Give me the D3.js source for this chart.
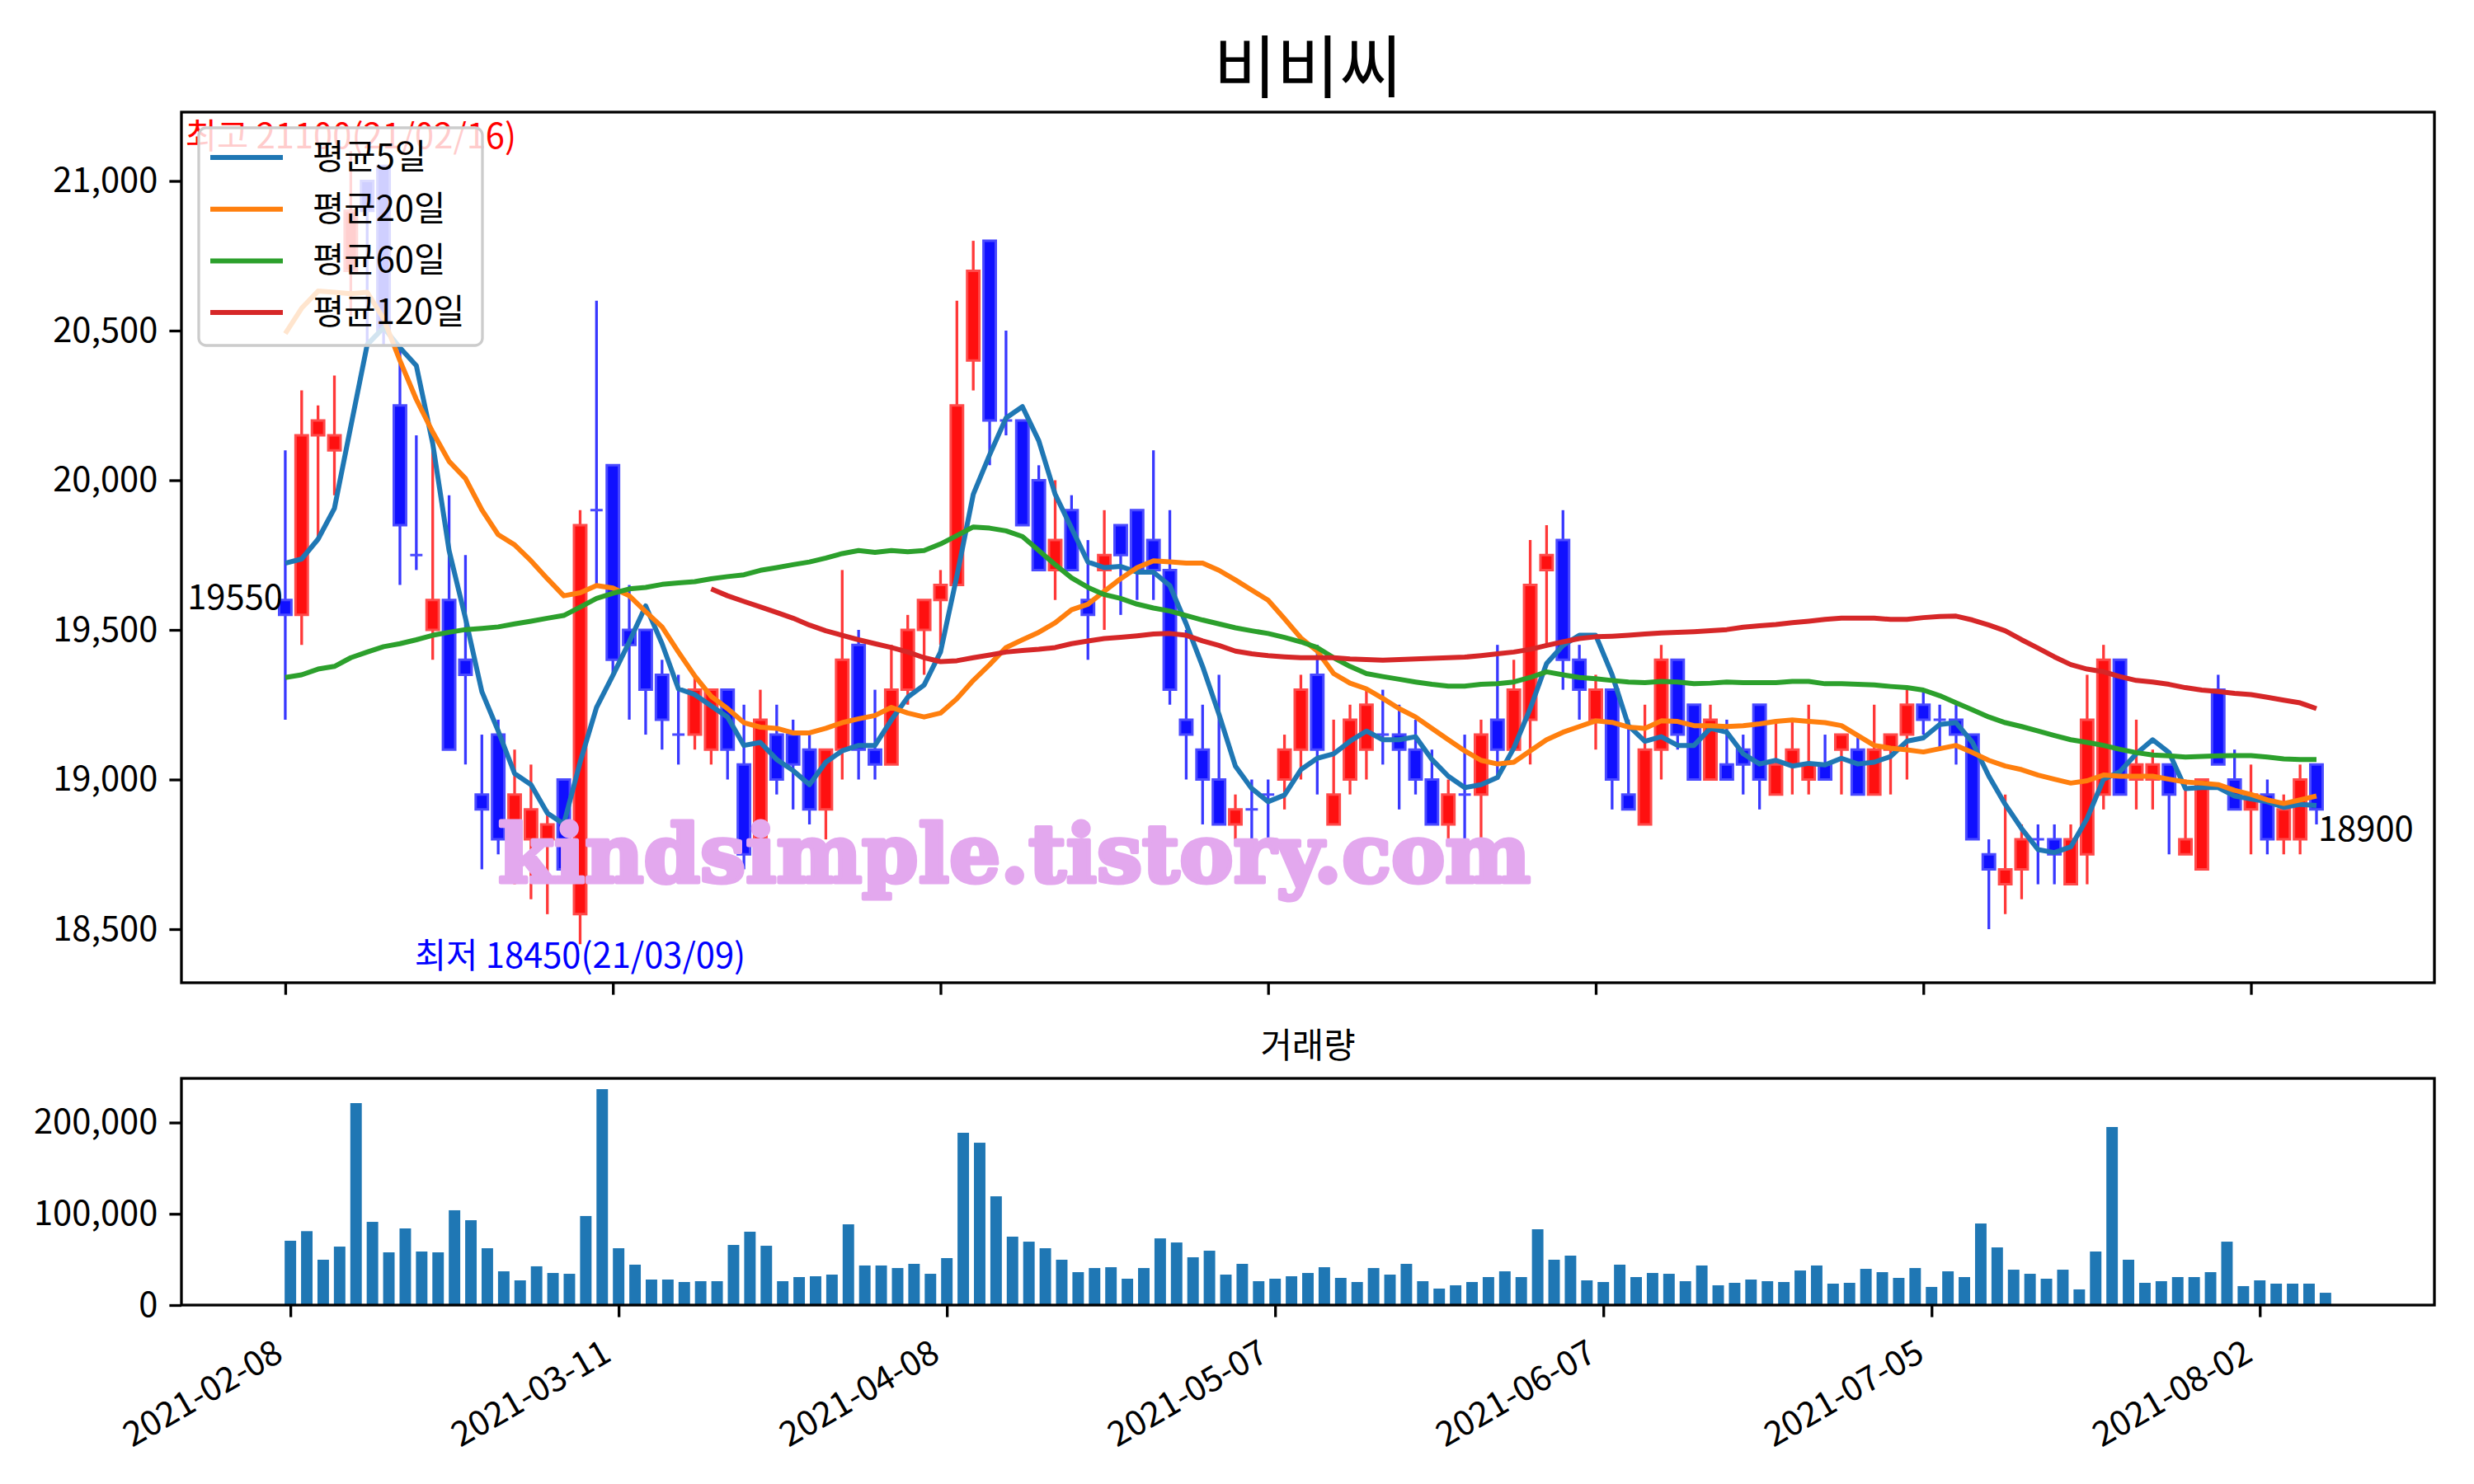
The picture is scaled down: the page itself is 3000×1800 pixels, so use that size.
<!DOCTYPE html>
<html>
<head>
<meta charset="utf-8">
<script src="https://cdn.jsdelivr.net/npm/d3@7"></script>
<style>
  html, body { margin: 0; padding: 0; background: #fff; }
  svg { display: block; }
</style>
</head>
<body>
<div id="chart"></div>
<script>
// 비비씨 daily candles + moving averages + volume (index based x axis)

const title = "비비씨";
const tickIdx = [0, 20, 40, 60, 80, 100, 120];
const tickDates = ["2021-02-08", "2021-03-11", "2021-04-08", "2021-05-07", "2021-06-07", "2021-07-05", "2021-08-02"];

const opens = [19600,19550,20150,20100,20700,21000,21050,20250,19750,19500,
  19600,19400,18950,19150,18800,18800,18800,19000,18550,19900,
  20050,19500,19500,19350,19150,19150,19100,19300,19050,18800,
  19150,19150,19100,18900,19100,19450,19100,19050,19300,19500,
  19600,19650,20400,20800,20200,20200,20000,19700,19900,19600,
  19700,19850,19900,19800,19700,19200,19100,19000,18850,18900,
  18950,19000,19100,19350,18850,19000,19100,19150,19150,19100,
  19000,18850,18950,18950,19200,19100,19200,19700,19800,19400,
  19200,19300,18950,18850,19100,19400,19250,19000,19050,19100,
  19250,18950,19050,19000,19050,19100,19100,18950,19100,19150,
  19250,19200,19200,19150,18750,18650,18700,18800,18800,18650,
  18750,18950,19400,19000,19000,19050,18750,18700,19300,19000,
  18900,18950,18800,18800,19050];

const highs = [20100,20300,20250,20350,21100,21000,21050,20450,20150,20150,
  19950,19750,19150,19200,19100,19050,18900,19000,19900,20600,
  20050,19650,19500,19400,19350,19350,19300,19300,19250,19300,
  19250,19200,19150,19100,19700,19500,19300,19450,19550,19600,
  19700,20600,20800,20800,20500,20200,20050,20000,19950,19800,
  19900,19850,19900,20100,19900,19500,19250,19350,18950,19000,
  19000,19150,19350,19450,19200,19250,19300,19300,19250,19200,
  19100,19000,19150,19200,19450,19400,19800,19850,19900,19450,
  19350,19300,19200,19250,19450,19400,19250,19250,19200,19150,
  19250,19200,19200,19250,19150,19150,19150,19250,19150,19300,
  19300,19250,19250,19150,18800,18950,18850,18850,18850,18850,
  19350,19450,19400,19200,19100,19050,19000,19000,19350,19100,
  19050,19000,18950,19050,19050];

const lows = [19200,19450,19800,19950,20550,20450,20450,19650,19700,19400,
  19100,19050,18700,18750,18650,18600,18550,18700,18450,19650,
  19350,19200,19150,19100,19050,19100,19050,19000,18700,18800,
  18950,18900,18850,18800,19000,19000,19000,19050,19250,19350,
  19450,19650,20300,20050,20150,19850,19700,19600,19700,19400,
  19500,19550,19600,19600,19250,19000,18850,18850,18800,18800,
  18800,18900,19000,18950,18850,18950,19000,19050,18900,18950,
  18850,18800,18800,18800,19000,19100,19050,19450,19300,19200,
  19100,18900,18900,18850,19000,19100,19000,19000,19000,18950,
  18900,18950,18950,18950,19000,18950,18950,18950,18950,19000,
  19150,19100,19050,18800,18500,18550,18600,18650,18650,18650,
  18650,18900,18950,18900,18900,18750,18750,18700,19050,18900,
  18750,18750,18750,18750,18850];

const closes = [19550,20150,20200,20150,20900,20900,20500,19850,19750,19600,
  19100,19350,18900,18800,18950,18900,18850,18700,19850,19900,
  19400,19450,19300,19200,19150,19300,19300,19100,18750,19200,
  19000,19050,18900,19100,19400,19100,19050,19300,19500,19600,
  19650,20250,20700,20200,20200,19850,19700,19800,19700,19550,
  19750,19750,19700,19700,19300,19150,19000,18850,18900,18900,
  18950,19100,19300,19100,18950,19200,19250,19150,19100,19000,
  18850,18950,18950,19150,19100,19300,19650,19750,19400,19300,
  19300,19000,18900,19100,19400,19150,19000,19200,19000,19050,
  19000,19050,19100,19050,19000,19150,18950,19100,19150,19250,
  19200,19200,19150,18800,18700,18700,18800,18800,18750,18800,
  19200,19400,18950,19050,19050,18950,18800,19000,19050,18900,
  18950,18800,18900,19000,18900];

const volumes = [70500,81000,49700,64100,221300,91200,57800,84000,58700,57800,
  103900,93000,62300,37000,27100,42500,35200,34300,97600,236600,
  62300,44300,28000,28000,25300,26200,26200,65900,80400,65000,
  26200,30700,31600,33400,88500,43400,43400,40600,45200,34300,
  51500,188800,177900,119200,75000,69500,62300,49700,36100,40600,
  41500,28900,40600,73100,68600,52400,59600,33400,45200,26200,
  28900,31600,35200,41500,29800,25300,40600,33400,45200,26200,
  18100,21700,25300,30700,37000,30700,83100,49700,54200,27100,
  25300,44300,30700,35200,34300,26200,43400,21700,24400,28000,
  26200,25300,37900,43400,23500,24400,39700,36100,29800,40600,
  19900,37000,30700,89400,63200,38800,34300,28900,38800,17200,
  58700,195100,49700,24400,26200,30700,30700,36100,69500,20800,
  27100,23500,23500,23500,13500];

// moving averages as drawn (older history not shown in the chart)
const ma5 = [19723,19737,19803,19906,20180,20453,20510,20443,20383,20123,
  19765,19539,19294,19162,19020,18983,18888,18851,19058,19241,
  19348,19460,19580,19454,19303,19284,19246,19209,19114,19124,
  19067,19030,18983,19058,19096,19114,19114,19199,19275,19316,
  19426,19680,19953,20085,20208,20246,20132,19953,19840,19727,
  19708,19712,19693,19693,19648,19520,19378,19218,19045,18970,
  18926,18948,19033,19071,19086,19128,19162,19133,19133,19143,
  19067,19011,18973,18983,19007,19105,19237,19388,19448,19482,
  19482,19350,19180,19128,19143,19114,19114,19171,19158,19086,
  19052,19064,19045,19054,19049,19071,19052,19058,19077,19128,
  19139,19184,19190,19124,19011,18917,18836,18766,18756,18775,
  18870,19001,19026,19086,19133,19090,18970,18973,18973,18945,
  18935,18926,18907,18917,18913];

const ma20 = [20490,20575,20632,20628,20623,20628,20540,20400,20270,20161,
  20063,20006,19901,19818,19784,19731,19671,19614,19624,19648,
  19640,19614,19561,19510,19426,19346,19278,19237,19190,19175,
  19171,19156,19156,19171,19190,19203,19214,19241,19222,19209,
  19222,19270,19331,19384,19441,19467,19492,19524,19567,19586,
  19629,19671,19708,19731,19727,19723,19723,19699,19667,19633,
  19599,19537,19473,19429,19354,19322,19303,19271,19237,19209,
  19171,19133,19096,19064,19052,19058,19096,19133,19158,19177,
  19196,19191,19175,19171,19196,19194,19180,19180,19177,19180,
  19186,19194,19199,19194,19190,19180,19147,19114,19105,19099,
  19092,19103,19114,19090,19064,19045,19033,19015,19001,18988,
  18996,19015,19011,19011,19011,19001,18992,18988,18983,18964,
  18950,18932,18920,18932,18945];

const ma60 = [19341,19350,19369,19378,19407,19426,19444,19454,19467,19482,
  19492,19501,19505,19510,19520,19529,19539,19548,19576,19605,
  19622,19637,19642,19652,19657,19661,19671,19678,19684,19699,
  19708,19718,19727,19740,19755,19765,19759,19765,19761,19765,
  19787,19815,19844,19840,19831,19812,19765,19718,19674,19642,
  19618,19605,19586,19573,19563,19548,19533,19520,19507,19497,
  19488,19475,19460,19441,19407,19378,19354,19344,19335,19326,
  19318,19312,19312,19318,19320,19326,19341,19360,19350,19341,
  19337,19331,19326,19324,19328,19326,19320,19322,19326,19324,
  19324,19324,19328,19328,19320,19320,19318,19316,19311,19307,
  19299,19280,19256,19233,19209,19190,19177,19162,19147,19133,
  19124,19114,19101,19090,19082,19079,19075,19077,19079,19080,
  19080,19075,19069,19067,19067];

const ma120 = [null,null,null,null,null,null,null,null,null,null,
  null,null,null,null,null,null,null,null,null,null,
  null,null,null,null,null,null,19637,19614,19595,19577,
  19558,19539,19516,19497,19482,19467,19454,19441,19426,19407,
  19394,19397,19407,19416,19426,19431,19435,19441,19454,19463,
  19471,19475,19480,19486,19488,19482,19463,19448,19429,19420,
  19414,19410,19407,19407,19407,19403,19401,19399,19401,19403,
  19405,19407,19409,19414,19420,19426,19435,19448,19460,19471,
  19477,19479,19482,19486,19490,19492,19494,19497,19501,19509,
  19514,19518,19524,19529,19535,19539,19539,19539,19535,19535,
  19541,19545,19546,19533,19516,19497,19467,19439,19410,19384,
  19369,19360,19344,19331,19326,19318,19307,19299,19294,19288,
  19284,19275,19265,19256,19237];

const maNames = ["평균5일", "평균20일", "평균60일", "평균120일"];
const priceTicks = [18500, 19000, 19500, 20000, 20500, 21000];
const volumeTicks = [0, 100000, 200000];

document.addEventListener('DOMContentLoaded', () => {
    drawChart();
});

function drawChart() {
    const W = 3000, H = 1800;
    const KR = "'Noto Sans CJK KR', 'Noto Sans', sans-serif";
    const FS = 41.7; // 10pt at 300 dpi

    const main = { left: 220, right: 2952, top: 136, bottom: 1192 };
    const vol = { left: 220, right: 2952, top: 1308, bottom: 1583 };

    const svg = d3.select('#chart').append('svg')
        .attr('width', W).attr('height', H)
        .style('background', '#fff');

    // Scales
    const x = d3.scaleLinear().domain([-6.34, 131.2]).range([main.left, main.right]);
    const y = d3.scaleLinear().domain([18321, 21230]).range([main.bottom, main.top]);
    const xv = d3.scaleLinear().domain([-6.64, 130.64]).range([vol.left, vol.right]);
    const yv = d3.scaleLinear().domain([0, 248400]).range([vol.bottom, vol.top]);

    const fmt = d3.format(',');
    const lineColors = ["#1f77b4", "#ff7f0e", "#2ca02c", "#d62728"];
    const maSeries = [ma5, ma20, ma60, ma120];

    svg.append('defs').append('clipPath').attr('id', 'clipMain')
        .append('rect')
        .attr('x', main.left).attr('y', main.top)
        .attr('width', main.right - main.left).attr('height', main.bottom - main.top);

    // Title
    svg.append('text')
        .attr('x', (main.left + main.right) / 2).attr('y', 112)
        .attr('text-anchor', 'middle')
        .style('font-family', KR).style('font-size', '83px')
        .text(title);

    // ---- Candles ----
    const candles = closes.map((c, i) => ({ i, o: opens[i], h: highs[i], l: lows[i], c }));
    const up = d => d.c > d.o;
    const bw = x(0.75) - x(0);

    const gC = svg.append('g').attr('clip-path', 'url(#clipMain)');

    gC.selectAll('line.wick')
        .data(candles)
        .enter().append('line')
        .attr('class', 'wick')
        .attr('x1', d => x(d.i)).attr('x2', d => x(d.i))
        .attr('y1', d => y(d.h)).attr('y2', d => y(d.l))
        .attr('stroke', d => up(d) ? '#ff3838' : '#3838ff')
        .attr('stroke-width', 3.3);

    gC.selectAll('path.body')
        .data(candles)
        .enter().append('path')
        .attr('class', 'body')
        .attr('d', d => {
            const x0 = x(d.i) - bw / 2, x1 = x(d.i) + bw / 2;
            const y0 = y(Math.max(d.o, d.c)), y1 = y(Math.min(d.o, d.c));
            return `M${x0},${y0}H${x1}V${y1}H${x0}Z`;
        })
        .attr('fill', d => up(d) ? '#ff1010' : '#1010ff')
        .attr('stroke', d => up(d) ? '#ff4a4a' : '#4a4aff')
        .attr('stroke-width', 3);

    // ---- Moving averages ----
    maSeries.forEach((s, k) => {
        const line = d3.line()
            .defined(d => d != null)
            .x((d, i) => x(i))
            .y(d => y(d));
        gC.append('path')
            .datum(s)
            .attr('d', line)
            .attr('fill', 'none')
            .attr('stroke', lineColors[k])
            .attr('stroke-width', 6)
            .attr('stroke-linejoin', 'round');
    });

    // ---- Annotations ----
    const hiIdx = highs.indexOf(d3.max(highs));
    const loIdx = lows.indexOf(d3.min(lows));
    svg.append('text')
        .attr('x', x(hiIdx)).attr('y', y(d3.max(highs)) - 3)
        .attr('text-anchor', 'middle')
        .attr('fill', 'red')
        .style('font-family', KR).style('font-size', FS + 'px')
        .text(`최고 ${d3.max(highs)}(21/02/16)`);
    svg.append('text')
        .attr('x', x(loIdx)).attr('y', y(d3.min(lows)) + 29)
        .attr('text-anchor', 'middle')
        .attr('fill', 'blue')
        .style('font-family', KR).style('font-size', FS + 'px')
        .text(`최저 ${d3.min(lows)}(21/03/09)`);
    svg.append('text')
        .attr('x', x(0) - 3).attr('y', y(closes[0]) - 7)
        .attr('text-anchor', 'end')
        .style('font-family', KR).style('font-size', FS + 'px')
        .text(closes[0]);
    const last = closes.length - 1;
    svg.append('text')
        .attr('x', x(last) + 2).attr('y', y(closes[last]) + 38)
        .attr('text-anchor', 'start')
        .style('font-family', KR).style('font-size', FS + 'px')
        .text(closes[last]);

    // Watermark (heavy serif look: fill plus same-colour stroke)
    svg.append('text')
        .attr('x', 604).attr('y', 1070)
        .attr('textLength', 1252).attr('lengthAdjust', 'spacingAndGlyphs')
        .attr('fill', '#e3a8ee')
        .attr('stroke', '#e3a8ee').attr('stroke-width', 5).attr('stroke-linejoin', 'round')
        .style('font-family', "'DejaVu Serif', serif")
        .style('font-weight', 'bold')
        .style('font-size', '98px')
        .text('kindsimple.tistory.com');

    // ---- Legend ----
    const lg = svg.append('g').attr('transform', 'translate(241,155)');
    lg.append('rect')
        .attr('width', 344).attr('height', 264).attr('rx', 9)
        .attr('fill', 'white').attr('fill-opacity', 0.8)
        .attr('stroke', '#cccccc').attr('stroke-width', 3.3);
    const rows = lg.selectAll('g.row')
        .data(maNames)
        .enter().append('g')
        .attr('transform', (d, i) => `translate(0, ${36 + i * 62.7})`);
    rows.append('line')
        .attr('x1', 14).attr('x2', 102)
        .attr('stroke', (d, i) => lineColors[i])
        .attr('stroke-width', 6);
    rows.append('text')
        .attr('x', 138).attr('y', 14)
        .style('font-family', KR).style('font-size', FS + 'px')
        .text(d => d);

    // ---- Price axes ----
    const ay = svg.append('g')
        .attr('transform', `translate(${main.left},0)`)
        .call(d3.axisLeft(y).tickValues(priceTicks).tickFormat(fmt).tickSize(14.6).tickPadding(14));
    const axMain = svg.append('g')
        .attr('transform', `translate(0,${main.bottom})`)
        .call(d3.axisBottom(x).tickValues(tickIdx).tickFormat('').tickSize(14.6));

    // ---- Volume panel ----
    svg.append('text')
        .attr('x', (vol.left + vol.right) / 2).attr('y', 1283)
        .attr('text-anchor', 'middle')
        .style('font-family', KR).style('font-size', FS + 'px')
        .text('거래량');

    const vbw = xv(0.7) - xv(0);
    svg.append('g').selectAll('rect')
        .data(volumes)
        .enter().append('rect')
        .attr('x', (d, i) => xv(i) - vbw / 2)
        .attr('width', vbw)
        .attr('y', d => yv(d))
        .attr('height', d => yv(0) - yv(d))
        .attr('fill', '#1f77b4');

    const avy = svg.append('g')
        .attr('transform', `translate(${vol.left},0)`)
        .call(d3.axisLeft(yv).tickValues(volumeTicks).tickFormat(fmt).tickSize(14.6).tickPadding(14));
    const axVol = svg.append('g')
        .attr('transform', `translate(0,${vol.bottom})`)
        .call(d3.axisBottom(xv).tickValues(tickIdx).tickFormat((d, i) => tickDates[i]).tickSize(14.6));
    axVol.selectAll('.tick text')
        .attr('x', 0).attr('y', 0).attr('dy', 0)
        .attr('transform', 'translate(-7,66) rotate(-30)')
        .style('text-anchor', 'end');

    [ay, axMain, avy, axVol].forEach(g => {
        g.select('.domain').remove();
        g.selectAll('.tick line').attr('stroke', '#000').attr('stroke-width', 3.3);
        g.selectAll('.tick text')
            .attr('fill', '#000')
            .style('font-family', KR)
            .style('font-size', FS + 'px');
    });

    // Spines
    [main, vol].forEach(p => {
        svg.append('rect')
            .attr('x', p.left).attr('y', p.top)
            .attr('width', p.right - p.left).attr('height', p.bottom - p.top)
            .attr('fill', 'none').attr('stroke', '#000').attr('stroke-width', 3.3);
    });
}
</script>
</body>
</html>
